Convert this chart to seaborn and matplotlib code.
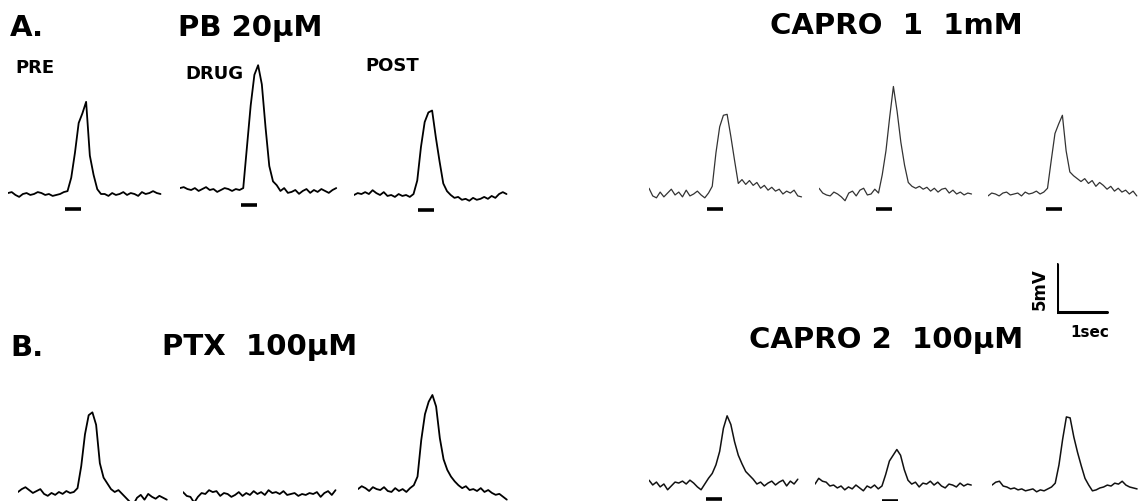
import matplotlib

matplotlib.use("Agg")
import matplotlib.pyplot as plt
import numpy as np
import seaborn as sns

###############
# PLOT CONFIG #
###############
FIG_W, FIG_H = 1141, 502      # px, dpi 100
DT = 0.075                    # s per sample
PX_PER_SEC = 49.6
PX_PER_MV = 9.6
Y_LO, Y_HI = -3, 14           # mV range of each sweep axes
STIM_DUR = 0.33               # s
STIM_Y = -1.6                 # mV, stimulus marker below the trace
FONT = ["DejaVu Sans"]
TITLE_SIZE = 21
LABEL_SIZE = 13

############### Sweeps (mV relative to baseline, one sample per DT)
pb_pre = [0.1, 0.2, -0.1, -0.3, 0.0, 0.1, -0.1, 0.0, 0.2, 0.1, -0.1, 0.0, -0.2, -0.1, 0.0, 0.2,
          0.3, 1.7, 4.3, 7.4, 8.4, 9.6, 4.0, 2.0, 0.5, 0.0,
          0.0, -0.2, 0.1, -0.1, 0.0, 0.2, -0.1, 0.1, 0.0, -0.2, 0.2, 0.0, 0.1, 0.3, 0.1, 0.0]
pb_drug = [0.2, 0.3, 0.1, 0.0, 0.2, -0.1, 0.1, 0.3, 0.0, 0.1, -0.2, 0.0, 0.2, 0.1, -0.1, 0.1, 0.0,
           0.2, 4.5, 8.8, 12.0, 13.0, 11.0, 6.5, 2.5, 0.9, 0.5,
           -0.1, 0.2, -0.3, -0.2, 0.0, -0.4, -0.1, 0.1, -0.3, 0.0, -0.2, 0.1, -0.1, -0.3, 0.0, 0.2]
pb_post = [0.0, 0.2, 0.1, 0.3, 0.1, 0.5, 0.2, 0.0, 0.3, -0.1, 0.0, -0.2, 0.1, -0.1, 0.0, -0.2,
           0.1, 1.5, 5.0, 7.6, 8.6, 8.8, 6.0, 3.5, 1.2, 0.4,
           0.0, -0.3, -0.2, -0.5, -0.4, -0.6, -0.3, -0.5, -0.4, -0.2, -0.4, -0.1, -0.3, 0.1, 0.3, 0.1]

capro1_pre = [0.6, -0.2, -0.4, 0.2, -0.3, 0.1, 0.5, -0.1, 0.2, -0.3, 0.4, -0.2, 0.0, 0.3, -0.1, -0.4, 0.1,
              0.8, 4.3, 7.0, 8.2, 8.3, 6.0, 3.5, 1.1, 1.5,
              1.0, 1.4, 0.9, 1.2, 0.6, 0.9, 0.4, 0.7, 0.3, 0.5, 0.0, 0.3, 0.1, 0.4, -0.2, -0.3]
capro1_drug = [0.6, 0.1, -0.1, -0.2, 0.2, 0.0, -0.3, -0.7, 0.1, 0.3, -0.2, 0.4, 0.6, -0.1, 0.0, 0.5, 0.1,
               2.0, 4.5, 8.0, 11.2, 8.6, 5.4, 3.0, 1.2, 0.8,
               0.6, 0.8, 0.5, 0.7, 0.3, 0.6, 0.2, 0.5, 0.6, 0.1, 0.4, 0.0, 0.2, -0.1, 0.1, 0.0]
capro1_post = [-0.2, 0.1, 0.0, -0.2, 0.1, 0.2, -0.1, 0.0, 0.1, -0.2, 0.2, 0.0, 0.1, 0.3, 0.0, 0.2,
               0.6, 3.5, 6.3, 7.3, 8.2, 4.5, 2.3, 1.9, 1.6,
               1.3, 1.6, 1.1, 1.4, 0.8, 1.2, 0.9, 0.5, 0.8, 0.3, 0.6, 0.2, 0.4, 0.0, 0.3, -0.2]

ptx_pre = [0.0, 0.3, 0.5, 0.2, -0.1, 0.1, 0.3, -0.2, -0.4, -0.1, -0.3, 0.0, -0.2, 0.1, -0.1, 0.0,
           0.4, 2.7, 6.0, 8.0, 8.3, 7.0, 3.0, 1.5, 0.9, 0.3,
           0.0, 0.2, -0.2, -0.6, -1.0, -1.3, -0.6, -0.3, -0.8, -0.2, -0.5, -0.7, -0.4, -0.6, -0.8]
ptx_drug = [0.2, -0.2, -0.3, -0.9, -0.3, 0.1, 0.0, 0.4, 0.2, 0.3, -0.2, 0.1, 0.0, -0.3,
            -0.1, 0.2, -0.2, 0.1, -0.1, 0.3, 0.0, 0.2, -0.1, 0.4, 0.1, 0.2, 0.0, 0.3,
            -0.1, 0.0, 0.1, -0.2, 0.0, -0.1, 0.1, 0.0, 0.2, -0.3, 0.1, 0.3, -0.1, 0.4]
ptx_post = [0.2, 0.5, 0.3, 0.0, 0.4, 0.2, 0.1, 0.4, 0.0, -0.1, 0.3, 0.0, 0.2, -0.1, 0.3, 0.6,
            1.5, 5.3, 8.0, 9.3, 10.0, 8.8, 5.5, 3.3, 2.2, 1.5,
            1.0, 0.6, 0.3, 0.5, 0.1, 0.2, 0.0, 0.3, -0.1, 0.1, -0.2, -0.4, -0.3, -0.6, -0.9]

capro2_pre = [0.4, -0.1, 0.2, -0.3, 0.0, -0.6, -0.2, 0.2, 0.1, 0.3, 0.0, 0.4, 0.1, -0.3, -0.6,
              0.0, 0.6, 1.1, 2.0, 3.4, 5.8, 7.1, 6.2, 4.4, 3.0, 2.1, 1.3, 0.9, 0.5,
              0.0, 0.2, -0.2, 0.1, 0.3, -0.1, 0.2, 0.4, -0.2, 0.3, 0.0, 0.5]
capro2_drug = [0.2, 0.8, 0.5, 0.4, 0.0, 0.1, -0.2, 0.0, -0.4, -0.1, -0.3, 0.1, -0.2, -0.5, 0.0, -0.2, 0.1, -0.3,
               0.0, 1.2, 2.6, 3.2, 3.8, 3.2, 1.7, 0.6, 0.2,
               0.4, -0.1, 0.3, 0.2, 0.5, 0.1, 0.4, 0.0, -0.2, 0.2, 0.1, -0.1, 0.3, 0.0, 0.2, 0.1]
capro2_post = [0.2, 0.5, 0.6, 0.1, 0.0, -0.2, -0.1, -0.3, -0.2, -0.4, -0.3, -0.2, -0.5, -0.3, -0.4, -0.2, 0.0,
               0.4, 2.3, 5.0, 7.3, 7.2, 5.2, 3.6, 2.2, 0.9, 0.2, -0.4,
               -0.3, -0.1, 0.0, 0.2, 0.1, 0.4, 0.3, 0.6, 0.2, 0.0, -0.1, -0.2]

# stimulus onset (s) for each sweep, None = marker below the page edge
pb_stim = [1.15, 1.23, 1.29]
capro1_stim = [1.17, 1.15, 1.17]
ptx_stim = [None, None, None]
capro2_stim = [1.15, 1.35, 1.23]

# scale bar: 5 mV, 1 s
SCALE_MV = 5
SCALE_SEC = 1

############### Layout (left px, baseline px) of each sweep
SWEEP_POS = {
    "pb": [(8, 195), (180, 191), (354, 196)],
    "capro1": [(649, 195), (819, 195), (988, 195)],
    "ptx": [(18, 493), (183, 495), (358, 492)],
    "capro2": [(649, 485), (815, 487), (992, 488)],
}
STYLE = {
    "pb": dict(color="black", lw=1.3),
    "capro1": dict(color="#333333", lw=0.9),
    "ptx": dict(color="black", lw=1.3),
    "capro2": dict(color="#111111", lw=1.1),
}
SWEEPS = {
    "pb": ([pb_pre, pb_drug, pb_post], pb_stim),
    "capro1": ([capro1_pre, capro1_drug, capro1_post], capro1_stim),
    "ptx": ([ptx_pre, ptx_drug, ptx_post], ptx_stim),
    "capro2": ([capro2_pre, capro2_drug, capro2_post], capro2_stim),
}


def sweep_axes(fig, x_px, base_px, width_px=160):
    """Axes in sec / mV whose 0 mV line sits at base_px (from the top)."""
    bottom_px = base_px - Y_LO * PX_PER_MV
    height_px = (Y_HI - Y_LO) * PX_PER_MV
    ax = fig.add_axes(
        [x_px / FIG_W, (FIG_H - bottom_px) / FIG_H, width_px / FIG_W, height_px / FIG_H]
    )
    ax.set_xlim(0, width_px / PX_PER_SEC)
    ax.set_ylim(Y_LO, Y_HI)
    ax.set_axis_off()
    return ax


def fig_text(fig, x_px, y_px, s, size, **kw):
    fig.text(x_px / FIG_W, 1 - y_px / FIG_H, s, fontsize=size, fontweight="bold",
             family=FONT, color="black", ha="center", va="center", **kw)


sns.set_theme(style="white")
plt.rcParams["font.family"] = FONT

fig = plt.figure(figsize=(FIG_W / 100, FIG_H / 100), dpi=100)
fig.patch.set_facecolor("white")

for key, (traces, stims) in SWEEPS.items():
    for (x_px, base_px), v, onset in zip(SWEEP_POS[key], traces, stims):
        ax = sweep_axes(fig, x_px, base_px)
        t = np.arange(len(v)) * DT
        sns.lineplot(x=t, y=v, ax=ax, estimator=None, **STYLE[key])
        if onset is not None:
            ax.plot([onset, onset + STIM_DUR], [STIM_Y, STIM_Y], color="black",
                    lw=2.6, solid_capstyle="butt")

# scale bar
ax = sweep_axes(fig, 1057, 313, width_px=60)
ax.plot([0, 0, SCALE_SEC], [SCALE_MV, 0, 0], color="black", lw=2.2,
        solid_joinstyle="miter")

# labels
fig_text(fig, 27, 28, "A.", TITLE_SIZE)
fig_text(fig, 250, 28, "PB 20µM", TITLE_SIZE)
fig_text(fig, 896, 26, "CAPRO  1  1mM", TITLE_SIZE)
fig_text(fig, 27, 348, "B.", TITLE_SIZE)
fig_text(fig, 260, 347, "PTX  100µM", TITLE_SIZE)
fig_text(fig, 886, 340, "CAPRO 2  100µM", TITLE_SIZE)
fig_text(fig, 35, 68, "PRE", LABEL_SIZE)
fig_text(fig, 214, 74, "DRUG", LABEL_SIZE)
fig_text(fig, 392, 66, "POST", LABEL_SIZE)
fig_text(fig, 1040, 289, "5mV", 12, rotation=90)
fig_text(fig, 1090, 333, "1sec", 11)

fig.savefig("out.png", dpi=100, facecolor="white")
